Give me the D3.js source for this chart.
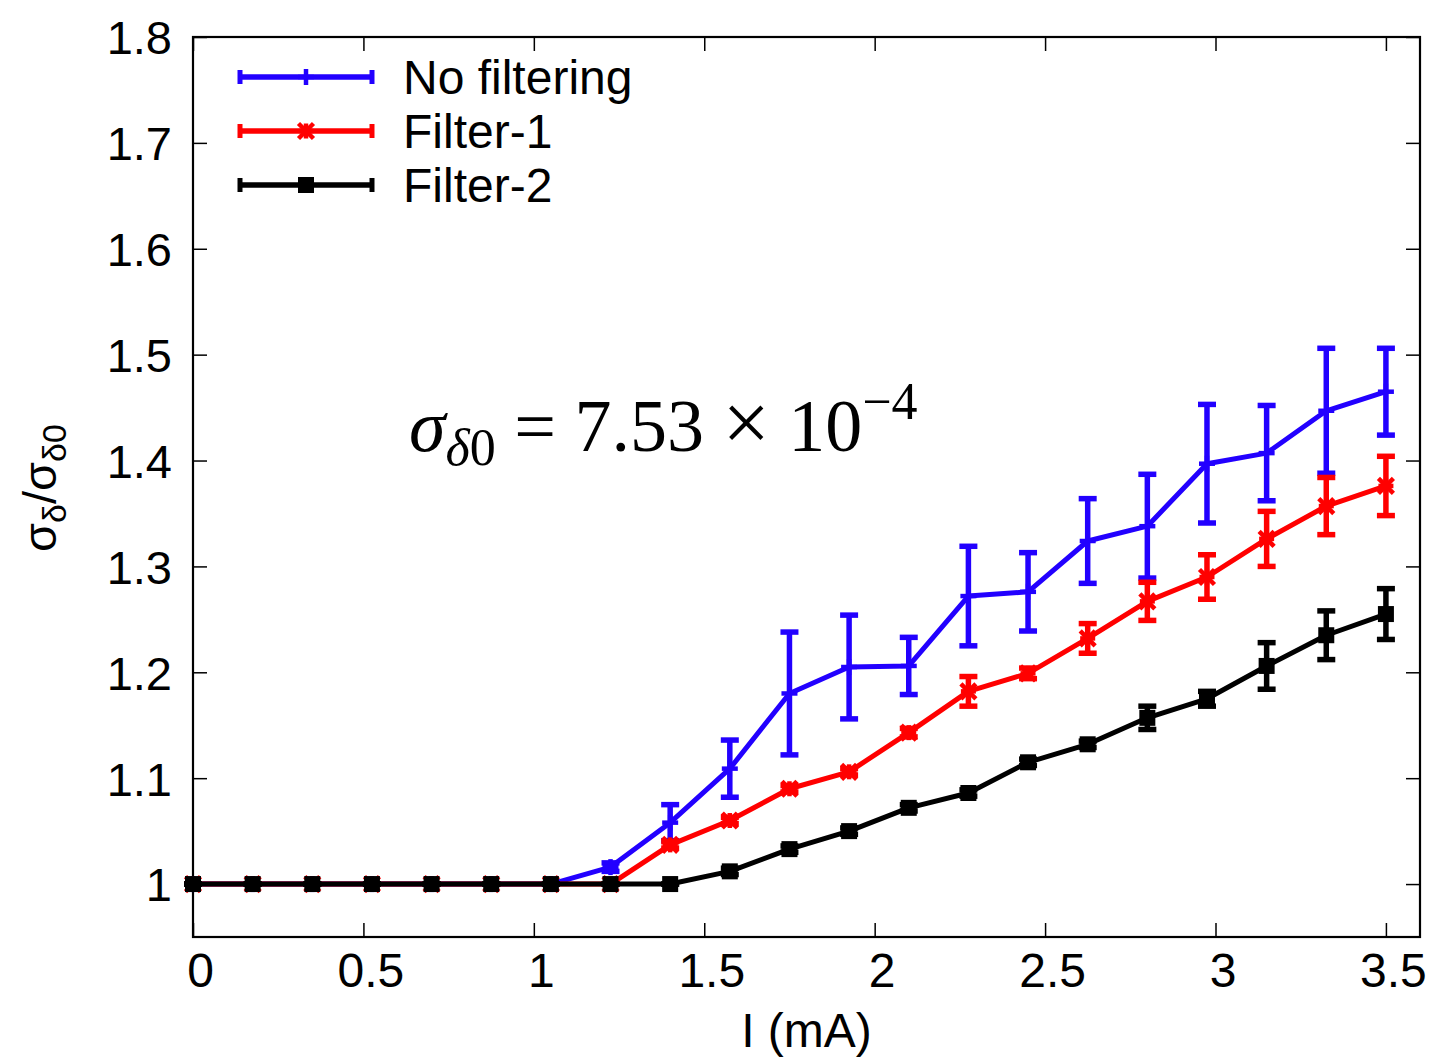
<!DOCTYPE html>
<html>
<head>
<meta charset="utf-8">
<script src="https://cdn.jsdelivr.net/npm/d3@7"></script>
<style>
  body { margin: 0; background: #fff; }
  svg { display: block; }
  text { font-family: "Liberation Sans", Arial, sans-serif; fill: #000; }
</style>
</head>
<body>
<svg id="chart" width="1430" height="1059"></svg>
<script>
// ---- data ----
const current = [0, 0.175, 0.35, 0.525, 0.7, 0.875, 1.05, 1.225, 1.4, 1.575, 1.75, 1.925, 2.1, 2.275, 2.45, 2.625, 2.8, 2.975, 3.15, 3.325, 3.5];
const noFilterVal = [1, 1, 1, 1, 1, 1, 1, 1.016, 1.058, 1.109, 1.180, 1.205, 1.206, 1.272, 1.276, 1.324, 1.338, 1.397, 1.407, 1.447, 1.465];
const noFilterErr = [0, 0, 0, 0, 0, 0, 0, 0.004, 0.017, 0.027, 0.058, 0.049, 0.027, 0.047, 0.037, 0.040, 0.049, 0.056, 0.045, 0.059, 0.041];
const filter1Val = [1, 1, 1, 1, 1, 1, 1, 1, 1.037, 1.060, 1.090, 1.106, 1.143, 1.182, 1.199, 1.232, 1.267, 1.290, 1.326, 1.357, 1.376];
const filter1Err = [0, 0, 0, 0, 0, 0, 0, 0, 0.003, 0.003, 0.003, 0.003, 0.004, 0.014, 0.005, 0.014, 0.018, 0.021, 0.026, 0.027, 0.028];
const filter2Val = [1, 1, 1, 1, 1, 1, 1, 1, 1, 1.012, 1.033, 1.050, 1.072, 1.086, 1.115, 1.132, 1.157, 1.175, 1.206, 1.235, 1.255];
const filter2Err = [0, 0, 0, 0, 0, 0, 0, 0, 0, 0.003, 0.003, 0.003, 0.003, 0.003, 0.003, 0.003, 0.011, 0.007, 0.022, 0.023, 0.024];
const seriesNames = ["No filtering", "Filter-1", "Filter-2"];
const seriesColors = ["#2200ff", "#ff0000", "#000000"];
const seriesMarkers = ["plus", "star", "square"];
const xTicks = [0, 0.5, 1, 1.5, 2, 2.5, 3, 3.5];
const yTicks = [1, 1.1, 1.2, 1.3, 1.4, 1.5, 1.6, 1.7, 1.8];

// ---- layout ----
const svg = d3.select("#chart");
const L = 193, R = 1420, T = 37, B = 937;
const x = d3.scaleLinear().domain([0, 3.6]).range([L, R]);
const y = d3.scaleLinear().domain([0.95, 1.8]).range([B, T]);
const tickLen = 14;

// frame
svg.append("rect").attr("x", L).attr("y", T).attr("width", R - L).attr("height", B - T)
  .attr("fill", "none").attr("stroke", "#000").attr("stroke-width", 2.2);

// axes ticks (inward, mirrored)
const xAxisB = d3.axisBottom(x).tickValues(xTicks).tickSizeInner(-tickLen).tickSizeOuter(0).tickFormat(d3.format("~g")).tickPadding(0);
const gxb = svg.append("g").attr("transform", `translate(0,${B})`).call(xAxisB);
gxb.select(".domain").remove();
gxb.selectAll("line").attr("stroke", "#000").attr("stroke-width", 1.5);
gxb.selectAll("text").attr("font-size", 48).attr("dx", 7).attr("y", 50).attr("dy", 0);

const gxt = svg.append("g").attr("transform", `translate(0,${T})`).call(d3.axisTop(x).tickValues(xTicks).tickSizeInner(-tickLen).tickSizeOuter(0).tickFormat(""));
gxt.select(".domain").remove();
gxt.selectAll("line").attr("stroke", "#000").attr("stroke-width", 1.5);

const gyl = svg.append("g").attr("transform", `translate(${L},0)`).call(d3.axisLeft(y).tickValues(yTicks).tickSizeInner(-tickLen).tickSizeOuter(0).tickFormat(d3.format("~g")).tickPadding(21));
gyl.select(".domain").remove();
gyl.selectAll("line").attr("stroke", "#000").attr("stroke-width", 1.5);
gyl.selectAll("text").attr("font-size", 47).attr("dy", "0.36em");

const gyr = svg.append("g").attr("transform", `translate(${R},0)`).call(d3.axisRight(y).tickValues(yTicks).tickSizeInner(-tickLen).tickSizeOuter(0).tickFormat(""));
gyr.select(".domain").remove();
gyr.selectAll("line").attr("stroke", "#000").attr("stroke-width", 1.5);

// axis titles
svg.append("text").attr("x", (L + R) / 2).attr("y", 1047).attr("text-anchor", "middle")
  .attr("font-size", 48).text("I (mA)");

const yl = svg.append("text").attr("transform", "translate(56,488) rotate(-90)")
  .attr("text-anchor", "middle").attr("font-size", 47);
yl.append("tspan").text("σ");
yl.append("tspan").attr("font-size", 34).attr("dy", 10).text("δ");
yl.append("tspan").attr("dy", -10).text("/σ");
yl.append("tspan").attr("font-size", 34).attr("dy", 10).text("δ0");

// annotation
const ann = svg.append("text").attr("x", 409).attr("y", 451)
  .style("font-family", "'Liberation Serif', 'Times New Roman', serif").attr("font-size", 74);
ann.append("tspan").attr("font-style", "italic").text("σ");
ann.append("tspan").attr("font-size", 52).attr("dy", 14).attr("font-style", "italic").text("δ");
ann.append("tspan").attr("font-size", 52).text("0");
ann.append("tspan").attr("dy", -14).text(" = 7.53 ");
ann.append("tspan").attr("font-size", 84).attr("dy", 0).text("×");
ann.append("tspan").attr("dy", 0).text(" 10");
ann.append("tspan").attr("font-size", 52).attr("dy", -32).text("−4");

// ---- series ----
const allVals = [noFilterVal, filter1Val, filter2Val];
const allErrs = [noFilterErr, filter1Err, filter2Err];

function drawMarker(g, type, cx, cy, color) {
  if (type === "plus") {
    g.append("line").attr("x1", cx - 8).attr("x2", cx + 8).attr("y1", cy).attr("y2", cy).attr("stroke", color).attr("stroke-width", 4.5);
    g.append("line").attr("x1", cx).attr("x2", cx).attr("y1", cy - 8).attr("y2", cy + 8).attr("stroke", color).attr("stroke-width", 4.5);
  } else if (type === "star") {
    const s = 7.5;
    [[-s, 0, s, 0], [0, -s, 0, s], [-s, -s, s, s], [-s, s, s, -s]].forEach(d => {
      g.append("line").attr("x1", cx + d[0]).attr("y1", cy + d[1]).attr("x2", cx + d[2]).attr("y2", cy + d[3])
        .attr("stroke", color).attr("stroke-width", 4.5);
    });
  } else {
    g.append("rect").attr("x", cx - 8).attr("y", cy - 8).attr("width", 16).attr("height", 16).attr("fill", color);
  }
}

const line = d3.line().x(d => x(d[0])).y(d => y(d[1]));

seriesNames.forEach((name, si) => {
  const color = seriesColors[si];
  const vals = allVals[si], errs = allErrs[si];
  const pts = current.map((c, i) => [c, vals[i], errs[i]]);
  const g = svg.append("g");
  g.append("path").datum(pts).attr("d", line).attr("fill", "none").attr("stroke", color)
    .attr("stroke-width", 5).attr("stroke-linejoin", "round");
  pts.forEach(p => {
    const cx = x(p[0]), top = y(p[1] + p[2]), bot = y(p[1] - p[2]);
    g.append("line").attr("x1", cx).attr("x2", cx).attr("y1", top).attr("y2", bot).attr("stroke", color).attr("stroke-width", 5.5);
    g.append("line").attr("x1", cx - 9).attr("x2", cx + 9).attr("y1", top).attr("y2", top).attr("stroke", color).attr("stroke-width", 5.5);
    g.append("line").attr("x1", cx - 9).attr("x2", cx + 9).attr("y1", bot).attr("y2", bot).attr("stroke", color).attr("stroke-width", 5.5);
    drawMarker(g, seriesMarkers[si], cx, y(p[1]), color);
  });

  // legend
  const ly = 77 + si * 54;
  const lg = svg.append("g");
  lg.append("line").attr("x1", 240).attr("x2", 372).attr("y1", ly).attr("y2", ly).attr("stroke", color).attr("stroke-width", 5.5);
  lg.append("line").attr("x1", 240).attr("x2", 240).attr("y1", ly - 7).attr("y2", ly + 7).attr("stroke", color).attr("stroke-width", 5);
  lg.append("line").attr("x1", 372).attr("x2", 372).attr("y1", ly - 7).attr("y2", ly + 7).attr("stroke", color).attr("stroke-width", 5);
  drawMarker(lg, seriesMarkers[si], 306, ly, color);
  lg.append("text").attr("x", 403).attr("y", ly + 17).attr("font-size", 48).text(name);
});
</script>
</body>
</html>
